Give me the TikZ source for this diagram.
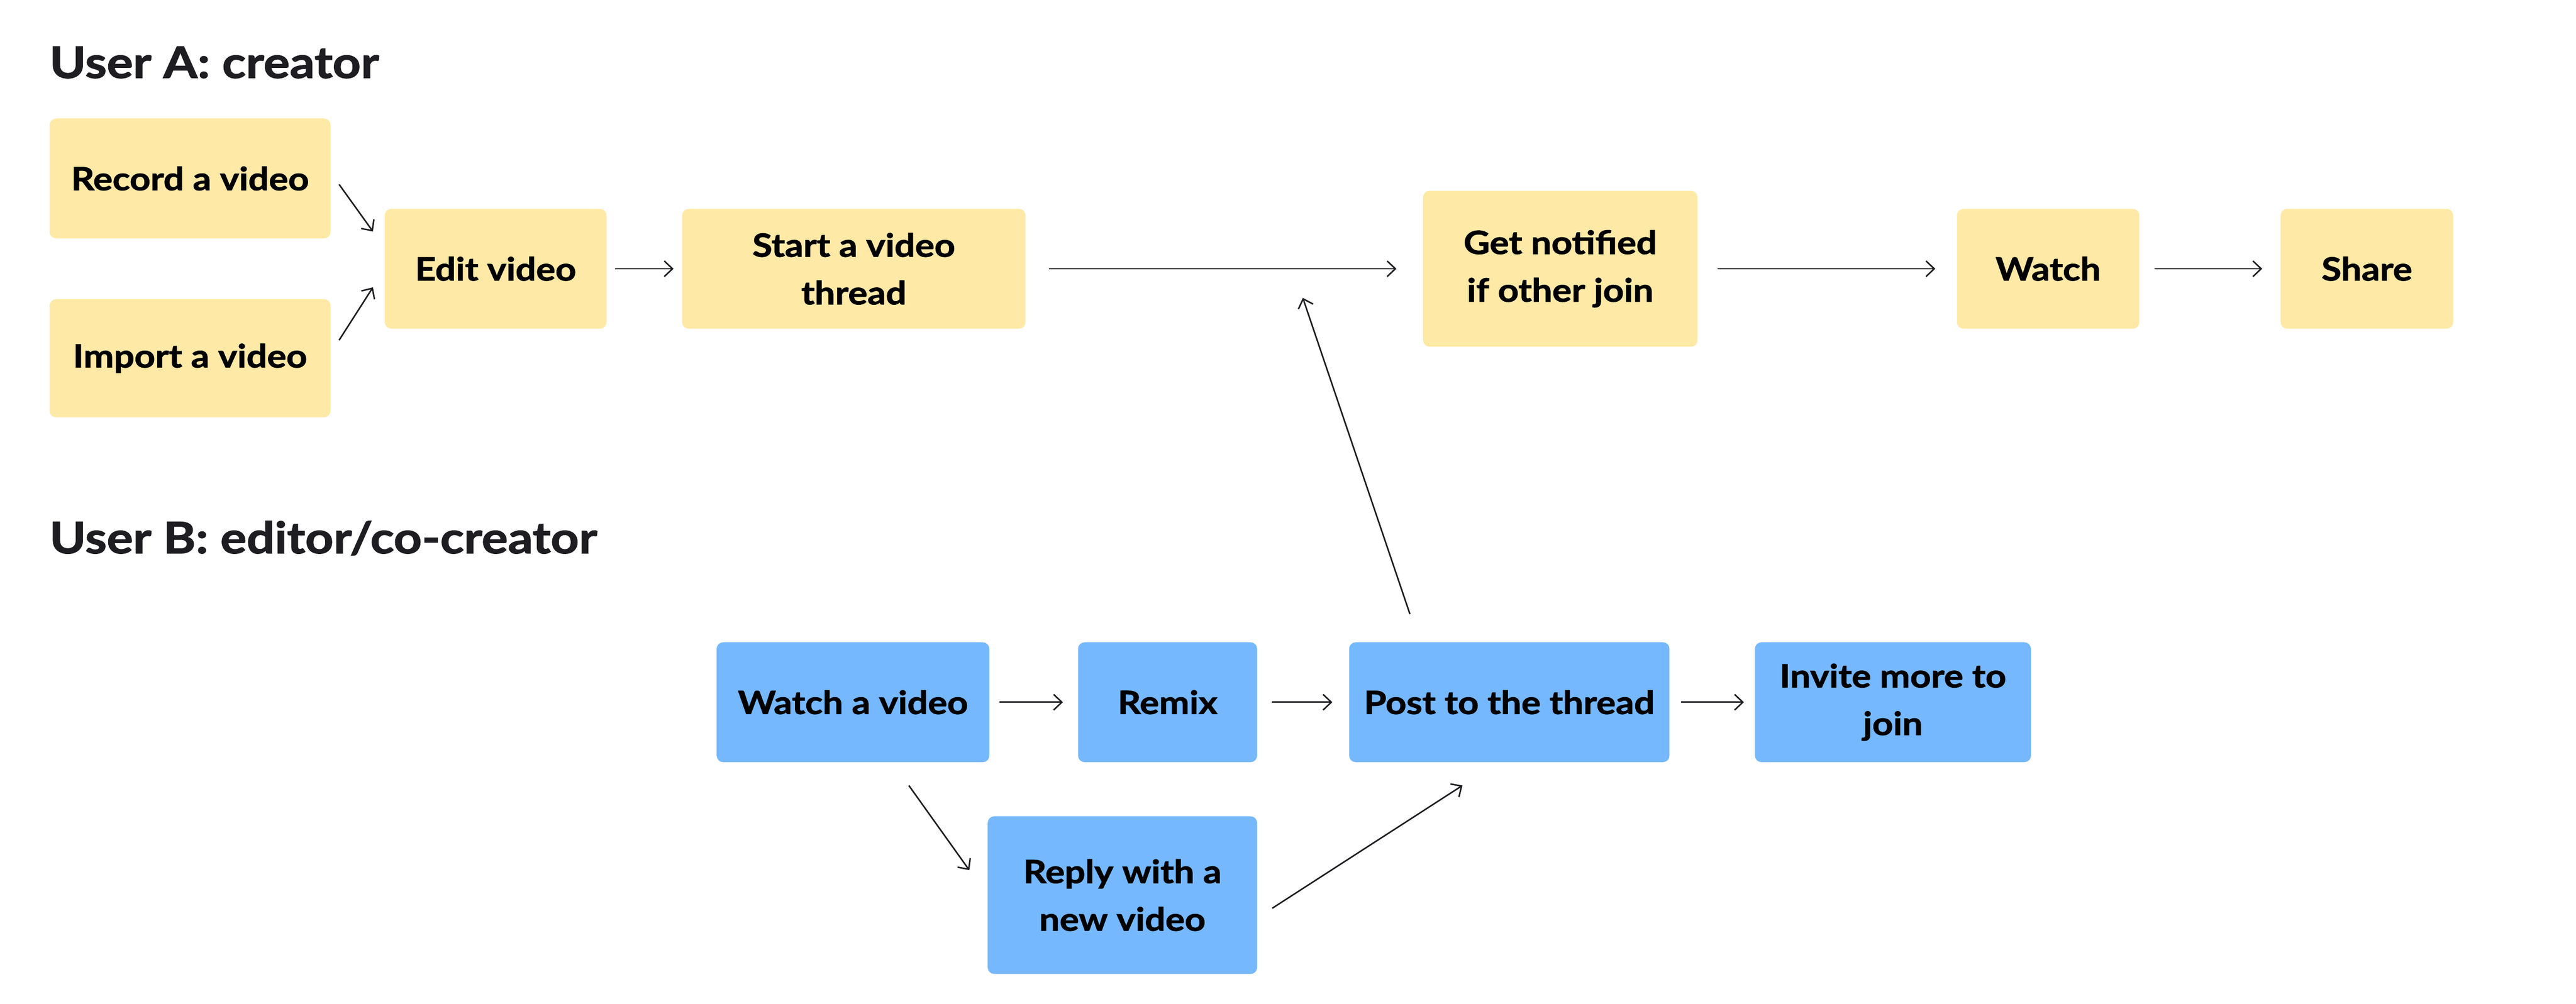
\documentclass[tikz,border=0pt]{standalone}
\usepackage{fontspec}
\setmainfont{Lato}[BoldFeatures={FakeBold=1.6, FakeStretch=1.13}]
\usepackage{xcolor}
\usepackage{tikz}
\usetikzlibrary{arrows.meta}
\definecolor{stickyyellow}{HTML}{FFE9A6}
\definecolor{stickyblue}{HTML}{75B8FE}
\definecolor{inkblack}{HTML}{1E1E22}
\tikzset{>={Straight Barb[length=5pt,width=9.5pt]},
    step box/.style={anchor=north west, rounded corners=4pt, align=center,
        font=\bfseries\fontsize{19.5}{29}\selectfont, text=black, inner sep=0pt},
    creator/.style={step box, fill=stickyyellow},
    editor/.style={step box, fill=stickyblue},
    heading/.style={anchor=base west, inner sep=0pt, text=inkblack,
        font=\bfseries\fontsize{26.5}{30}\selectfont},
    flow/.style={->, draw=inkblack, line width=0.9pt}}

\begin{document}
\begin{tikzpicture}[x=1pt, y=1pt]
    \useasboundingbox (0, 0) rectangle (1568, -611.5);
    \node[heading] at (30, -47.5) (titleA) {User A: creator};
    \node[heading] at (30, -337) (titleB) {User B: editor/co-creator};
    % user A
    \node[creator, minimum width=171pt, minimum height=73pt] at (30, -72) (rec) {Record a video};
    \node[creator, minimum width=171pt, minimum height=72pt] at (30, -182) (imp) {Import a video};
    \node[creator, minimum width=135pt, minimum height=73pt] at (234, -127) (edit) {Edit video};
    \node[creator, minimum width=209pt, minimum height=73pt] at (415, -127) (start) {Start a video\\thread};
    \node[creator, minimum width=167pt, minimum height=95pt] at (866, -116) (notif) {Get notified\\if other join};
    \node[creator, minimum width=111pt, minimum height=73pt] at (1191, -127) (watch) {Watch};
    \node[creator, minimum width=105pt, minimum height=73pt] at (1388, -127) (share) {Share};
    % user B
    \node[editor, minimum width=166pt, minimum height=73pt] at (436, -391) (wv) {Watch a video};
    \node[editor, minimum width=109pt, minimum height=73pt] at (656, -391) (remix) {Remix};
    \node[editor, minimum width=195pt, minimum height=73pt] at (821, -391) (post) {Post to the thread};
    \node[editor, minimum width=168pt, minimum height=73pt] at (1068, -391) (invite) {Invite more to\\join};
    \node[editor, minimum width=164pt, minimum height=96pt] at (601, -497) (reply) {Reply with a\\new video};
    % connectors
    \draw[flow] ([shift={(5pt,-3.6pt)}]rec.east) -- ([shift={(-7pt,-14pt)}]edit.north west);
    \draw[flow] ([shift={(5pt,11pt)}]imp.east) -- ([shift={(-7pt,25.4pt)}]edit.south west);
    \draw[flow, shorten <=5pt, shorten >=5pt] (edit) -- (start);
    \draw[flow, shorten <=14pt, shorten >=16pt] (start) -- (notif);
    \draw[flow, shorten <=12pt, shorten >=13pt] (notif) -- (watch);
    \draw[flow, shorten <=9pt, shorten >=11pt] (watch) -- (share);
    \draw[flow, shorten <=6pt, shorten >=9pt] (wv) -- (remix);
    \draw[flow, shorten <=9pt, shorten >=10pt] (remix) -- (post);
    \draw[flow, shorten <=7pt, shorten >=6.5pt] (post) -- (invite);
    \draw[flow] ([shift={(-60.5pt,17pt)}]post.north) -- ([shift={(-73pt,30pt)}]notif.south west);
    \draw[flow] ([shift={(34pt,-14pt)}]wv.south) -- ([shift={(-11pt,-33pt)}]reply.north west);
    \draw[flow] ([shift={(9pt,-8pt)}]reply.east) -- ([shift={(-28.5pt,-14pt)}]post.south);
\end{tikzpicture}
\end{document}
